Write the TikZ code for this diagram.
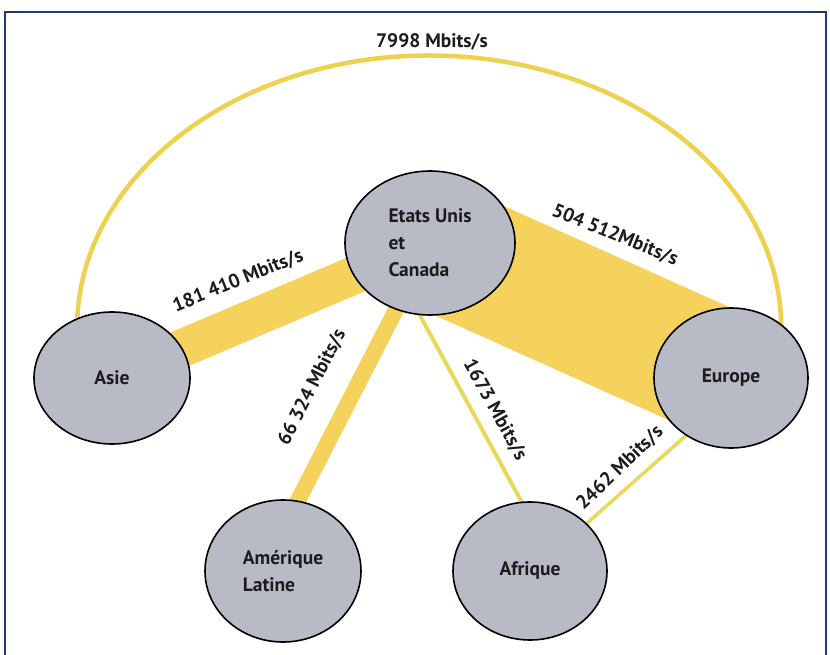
\documentclass[tikz,border=0pt]{standalone}
\usepackage{fontspec}
\setmainfont{PT Sans}
\usetikzlibrary{shapes.geometric}
\pgfdeclarelayer{bg}
\pgfsetlayers{bg,main}
\definecolor{bandcol}{HTML}{F4D25C}
\definecolor{arccol}{HTML}{EFD150}
\definecolor{thincol}{HTML}{E6D95C}
\definecolor{nodefill}{HTML}{B8BBC5}
\definecolor{txt}{HTML}{1C1C1C}
\definecolor{framecol}{HTML}{1F3A6B}
\begin{document}
\begin{tikzpicture}[x=1pt,y=-1pt,
  region/.style={ellipse, draw=black, line width=1.6pt, fill=nodefill, inner sep=0pt,
    font=\fontsize{19.5}{27}\selectfont\bfseries, text=txt, align=left},
  lab/.style={font=\fontsize{19.5}{22}\selectfont\bfseries, text=txt, inner sep=0pt},
  band/.style={draw=bandcol, line cap=butt, shorten <=-14pt, shorten >=-14pt},
  thin/.style={draw=thincol, line width=4pt, shorten <=-6pt, shorten >=-6pt},
  bigarc/.style={draw=arccol, line width=4.5pt},
  frameline/.style={draw=framecol, line width=1.8pt}]
\useasboundingbox (0,0) rectangle (830,655);
\clip (0,0) rectangle (830,655);

% regions
\node[region, minimum width=170pt, minimum height=144pt] (us) at (430,243) {Etats Unis\\et\\Canada};
\node[region, minimum width=156pt, minimum height=132pt] (asie) at (112,378) {Asie};
\node[region, minimum width=154pt, minimum height=140pt] (eur) at (731,378) {Europe};
\node[region, minimum width=156pt, minimum height=142pt] (amlat) at (283,571) {Amérique\\Latine};
\node[region, minimum width=154pt, minimum height=138pt] (afr) at (530,571) {Afrique};

% background, frame and connectors
\begin{pgfonlayer}{bg}
  \fill[white] (0,0) rectangle (830,655);
  \draw[frameline] (5,12) rectangle (826,690);
  \draw[bigarc] (asie.120) arc[start angle=182, end angle=360, x radius=352, y radius=272];
  \draw[band, line width=128pt, shorten <=0pt, shorten >=0pt] (us.center) -- (eur.center);
  \draw[band, line width=38pt, shorten <=0pt, shorten >=0pt] (asie.center) -- (us.center);
  \draw[band, line width=16pt] (us.243) -- (amlat.78);
  \draw[thin] (us.262) -- (afr.97);
  \draw[thin, line width=3.5pt] (eur.232) -- (afr.40);
\end{pgfonlayer}

% labels
\node[lab] (l7998) at (432,42) {7998 Mbits/s};
\node[lab, rotate=22] (l181) at (238,281) {181 410 Mbits/s};
\node[lab, rotate=-22] (l504) at (615,235) {504 512Mbits/s};
\node[lab, rotate=63] (l66) at (312,387) {66 324 Mbits/s};
\node[lab, rotate=-61] (l1673) at (495,410) {1673 Mbits/s};
\node[lab, rotate=44] (l2462) at (620,468) {2462 Mbits/s};
\end{tikzpicture}
\end{document}
